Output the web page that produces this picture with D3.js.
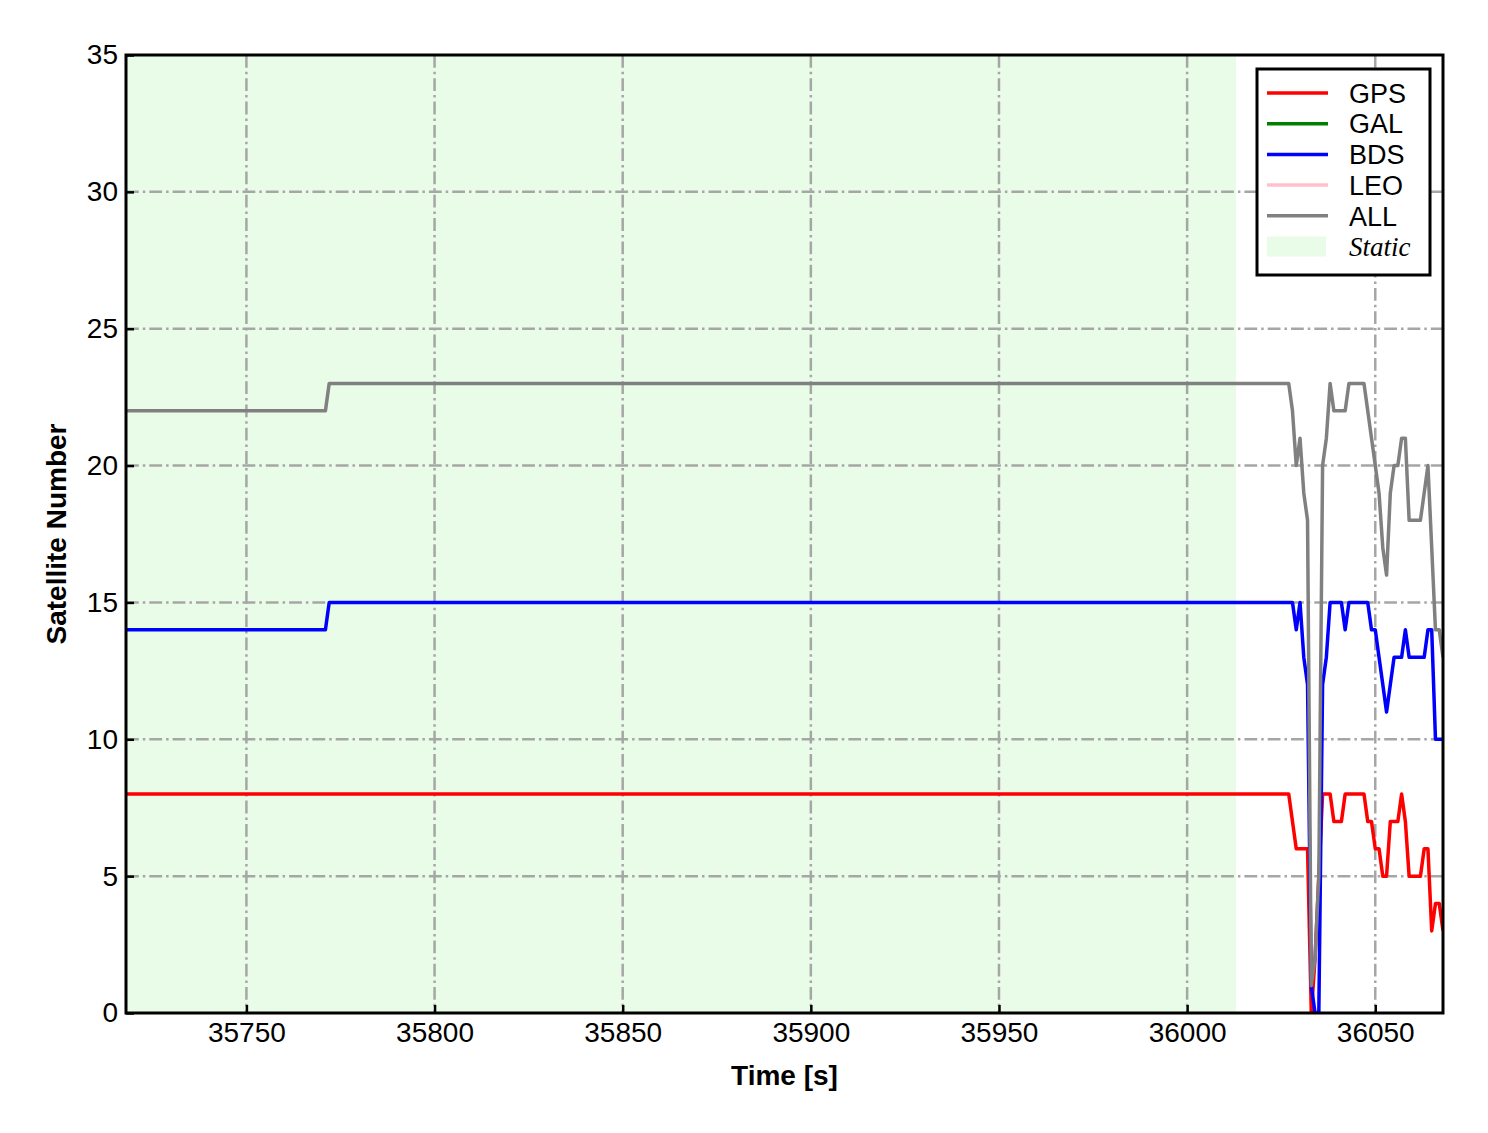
<!DOCTYPE html>
<html>
<head>
<meta charset="utf-8">
<script src="https://cdn.jsdelivr.net/npm/d3@7"></script>
<style>
    body { margin: 0; background: #fff; }
    .tick text { font-family: "Liberation Sans", Arial, sans-serif; font-size: 28px; fill: #000; }
</style>
</head>
<body>
<svg id="chart" width="1488" height="1133"></svg>
<script>
// time axis shared by all series [s]
var times = [35718, 35771, 35772,
    36027, 36028, 36029, 36030, 36031, 36032, 36033, 36034, 36035, 36036,
    36037, 36038, 36039, 36040, 36041, 36042, 36043, 36044, 36045, 36046,
    36047, 36048, 36049, 36050, 36051, 36052, 36053, 36054, 36055, 36056,
    36057, 36058, 36059, 36060, 36061, 36062, 36063, 36064, 36065, 36066,
    36067, 36068];

var gpsValues = [8, 8, 8,
    8, 7, 6, 6, 6, 6, 0, 2, 5, 8,
    8, 8, 7, 7, 7, 8, 8, 8, 8, 8,
    8, 7, 7, 6, 6, 5, 5, 7, 7, 7,
    8, 7, 5, 5, 5, 5, 6, 6, 3, 4,
    4, 3];

var galValues = [];   // nothing visible in the plot

var bdsValues = [14, 14, 15,
    15, 15, 14, 15, 13, 12, 1, 0, 0, 12,
    13, 15, 15, 15, 15, 14, 15, 15, 15, 15,
    15, 15, 14, 14, 13, 12, 11, 12, 13, 13,
    13, 14, 13, 13, 13, 13, 13, 14, 14, 10,
    10, 10];

var leoValues = [];   // nothing visible in the plot

var allValues = [22, 22, 23,
    23, 22, 20, 21, 19, 18, 1, 2, 5, 20,
    21, 23, 22, 22, 22, 22, 23, 23, 23, 23,
    23, 22, 21, 20, 19, 17, 16, 19, 20, 20,
    21, 21, 18, 18, 18, 18, 19, 20, 17, 14,
    14, 13];

var staticRange = [35718, 36013];
var xTicks = [35750, 35800, 35850, 35900, 35950, 36000, 36050];
var yTicks = [0, 5, 10, 15, 20, 25, 30, 35];

var seriesList = [
    {name: "GPS", color: "#ff0000", values: gpsValues},
    {name: "GAL", color: "#008000", values: galValues},
    {name: "BDS", color: "#0000ff", values: bdsValues},
    {name: "LEO", color: "#ffc0cb", values: leoValues},
    {name: "ALL", color: "#808080", values: allValues}
];

var svg = d3.select("#chart"),
    margin = {top: 55, right: 45, bottom: 120, left: 126},
    width = 1488,
    height = 1133;

var x = d3.scaleLinear()
    .domain([35718, 36068])
    .range([margin.left, width - margin.right]);

var y = d3.scaleLinear()
    .domain([0, 35])
    .range([height - margin.bottom, margin.top]);

svg.append("defs").append("clipPath")
    .attr("id", "plotClip")
    .append("rect")
    .attr("x", x.range()[0])
    .attr("y", y.range()[1])
    .attr("width", x.range()[1] - x.range()[0])
    .attr("height", y.range()[0] - y.range()[1]);

// static period
svg.append("rect")
    .attr("x", x(staticRange[0]))
    .attr("y", y(35))
    .attr("width", x(staticRange[1]) - x(staticRange[0]))
    .attr("height", y(0) - y(35))
    .attr("fill", "#e8fce8");

// grid
var grid = svg.append("g")
    .attr("stroke", "#a6a6a6")
    .attr("stroke-width", 2.5)
    .attr("stroke-dasharray", "12.8,4,2.5,4");

grid.selectAll(".vgrid")
    .data(xTicks)
    .enter().append("line")
    .attr("class", "vgrid")
    .attr("x1", d => x(d)).attr("x2", d => x(d))
    .attr("y1", y(35)).attr("y2", y(0));

grid.selectAll(".hgrid")
    .data(yTicks.slice(1, -1))
    .enter().append("line")
    .attr("class", "hgrid")
    .attr("x1", x.range()[0]).attr("x2", x.range()[1])
    .attr("y1", d => y(d)).attr("y2", d => y(d));

var line = d3.line()
    .x((d, i) => x(times[i]))
    .y(d => y(d));

svg.append("g")
    .attr("clip-path", "url(#plotClip)")
    .selectAll("path")
    .data(seriesList.filter(s => s.values.length > 0))
    .enter().append("path")
    .attr("fill", "none")
    .attr("stroke", d => d.color)
    .attr("stroke-width", 3.5)
    .attr("stroke-linejoin", "round")
    .attr("d", d => line(d.values));

// axes with inward ticks
var xAxis = d3.axisBottom(x).tickValues(xTicks).tickFormat(d3.format("d"))
    .tickSizeInner(-8).tickSizeOuter(0).tickPadding(9);
var yAxis = d3.axisLeft(y).tickValues(yTicks)
    .tickSizeInner(-8).tickSizeOuter(0).tickPadding(8);

svg.append("g")
    .attr("class", "x-axis")
    .attr("transform", "translate(0," + y(0) + ")")
    .call(xAxis)
    .call(g => g.select(".domain").remove())
    .call(g => g.selectAll(".tick line").attr("stroke", "#000").attr("stroke-width", 2.5));

svg.append("g")
    .attr("class", "y-axis")
    .attr("transform", "translate(" + x.range()[0] + ",0)")
    .call(yAxis)
    .call(g => g.select(".domain").remove())
    .call(g => g.selectAll(".tick line").attr("stroke", "#000").attr("stroke-width", 2.5));

// frame
svg.append("rect")
    .attr("x", x.range()[0])
    .attr("y", y(35))
    .attr("width", x.range()[1] - x.range()[0])
    .attr("height", y(0) - y(35))
    .attr("fill", "none")
    .attr("stroke", "#000")
    .attr("stroke-width", 3);

svg.append("text")
    .attr("x", (x.range()[0] + x.range()[1]) / 2)
    .attr("y", 1085)
    .attr("text-anchor", "middle")
    .style("font-family", "'Liberation Sans', Arial, sans-serif")
    .style("font-size", "28px")
    .style("font-weight", "bold")
    .text("Time [s]");

svg.append("text")
    .attr("transform", "translate(66," + ((y(0) + y(35)) / 2) + ") rotate(-90)")
    .attr("text-anchor", "middle")
    .style("font-family", "'Liberation Sans', Arial, sans-serif")
    .style("font-size", "28px")
    .style("font-weight", "bold")
    .text("Satellite Number");

// legend
var legend = svg.append("g").attr("transform", "translate(1257,69)");

legend.append("rect")
    .attr("width", 173).attr("height", 206)
    .attr("fill", "#fff")
    .attr("stroke", "#000")
    .attr("stroke-width", 3);

var rowH = 30.7;

legend.selectAll(".legLine")
    .data(seriesList)
    .enter().append("line")
    .attr("class", "legLine")
    .attr("x1", 10).attr("x2", 71)
    .attr("y1", (d, i) => 24 + i * rowH)
    .attr("y2", (d, i) => 24 + i * rowH)
    .attr("stroke", d => d.color)
    .attr("stroke-width", 3.5);

legend.selectAll(".legText")
    .data(seriesList)
    .enter().append("text")
    .attr("class", "legText")
    .attr("x", 92)
    .attr("y", (d, i) => 24 + i * rowH)
    .attr("dy", "0.36em")
    .style("font-family", "'Liberation Sans', Arial, sans-serif")
    .style("font-size", "27px")
    .text(d => d.name);

legend.append("rect")
    .attr("x", 10).attr("y", 24 + 5 * rowH - 10)
    .attr("width", 59).attr("height", 20)
    .attr("fill", "#e8fce8");

legend.append("text")
    .attr("x", 92)
    .attr("y", 24 + 5 * rowH)
    .attr("dy", "0.36em")
    .style("font-family", "'Liberation Serif', 'Times New Roman', serif")
    .style("font-style", "italic")
    .style("font-size", "27px")
    .text("Static");
</script>
</body>
</html>
